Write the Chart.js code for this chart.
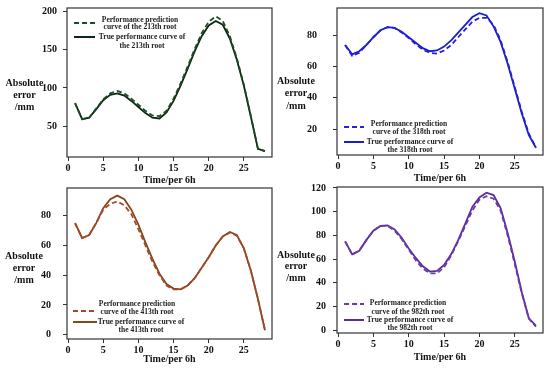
<!DOCTYPE html>
<html lang="en">
<head>
  <meta charset="UTF-8" />
  <title>Absolute error curves</title>
  <script src="https://cdn.jsdelivr.net/npm/chart.js"></script>
  <style>
    * { margin: 0; padding: 0; box-sizing: border-box; }
    body { background: #fff; width: 550px; height: 371px; position: relative; overflow: hidden; }
    canvas { position: absolute; }
  </style>
</head>
<body>
  <canvas id="c213" width="275" height="190" style="left:0;top:0"></canvas>
  <canvas id="c318" width="275" height="190" style="left:275px;top:0"></canvas>
  <canvas id="c413" width="275" height="188" style="left:0;top:183px"></canvas>
  <canvas id="c982" width="275" height="188" style="left:275px;top:183px"></canvas>

  <script>
    // time steps (per 6h)
    const timeSteps = [1, 2, 3, 4, 5, 6, 7, 8, 9, 10, 11, 12, 13, 14, 15, 16, 17, 18, 19, 20, 21, 22, 23, 24, 25, 26, 27, 28];
    const xTicks = [0, 5, 10, 15, 20, 25];

    // 213th root
    const pred213 = [80, 59, 61, 73, 85, 93, 96, 93, 86, 78, 70, 64, 63, 70, 86, 106, 128, 151, 172, 187, 194, 188, 168, 139, 104, 63, 20, 17];
    const true213 = [80, 59, 61, 72, 84, 91, 93, 90, 83, 75, 67, 61, 60, 68, 83, 103, 125, 148, 168, 182, 188, 183, 165, 137, 103, 62, 20, 17];
    const yTicks213 = [50, 100, 150, 200];

    // 318th root
    const pred318 = [74, 67, 69, 74, 79, 83.5, 85.5, 85, 82, 78.5, 74.5, 71, 69, 68.5, 70.5, 74, 79, 84, 89, 91.5, 91.5, 87, 77, 63, 47, 31, 17, 8];
    const true318 = [74, 68, 70, 74, 79, 83.5, 85.5, 85, 82.5, 79, 75.5, 72, 70, 70.5, 73, 77, 82, 87, 92, 94.5, 93, 86, 76, 62, 46, 30, 16, 8];
    const yTicks318 = [20, 40, 60, 80];

    // 413th root
    const pred413 = [75, 65, 67, 75, 84, 88, 89.5, 87, 81, 71, 60, 49, 40, 33, 30.5, 30.5, 33, 38, 45, 52, 60, 66, 68.5, 66.5, 58, 43, 24, 3];
    const true413 = [75, 65, 67, 75, 85, 91, 93.5, 91, 84, 74, 62, 51, 41, 34, 31, 30.5, 33, 38, 45, 52, 60, 66, 69, 67, 58, 43, 24, 3];
    const yTicks413 = [0, 20, 40, 60, 80];

    // 982th root
    const pred982 = [75, 64, 67, 76, 84, 88, 88, 84, 77, 68, 59, 52, 48, 48, 53, 63, 75, 88, 101, 110, 113, 111, 101, 80, 56, 31, 10, 3];
    const true982 = [75, 64, 67, 76, 84, 88, 88.5, 85, 78, 69, 61, 54, 49.5, 50, 55, 64, 76, 90, 104, 112, 116, 114, 103, 82, 58, 32, 10, 4];
    const yTicks982 = [0, 20, 40, 60, 80, 100, 120];

    const serif = "'Liberation Serif', 'Times New Roman', serif";

    // draws the frame, the horizontal y title and the in-plot legend
    const decorPlugin = {
      id: 'decor',
      afterDraw(chart) {
        const d = chart.options.plugins.decor;
        const ctx = chart.ctx;
        const a = chart.chartArea;
        ctx.save();
        ctx.strokeStyle = '#333';
        ctx.lineWidth = 1.2;
        ctx.strokeRect(a.left, a.top, a.right - a.left, a.bottom - a.top);

        ctx.fillStyle = '#111';
        ctx.textAlign = 'center';
        ctx.textBaseline = 'middle';
        ctx.font = 'bold 10px ' + serif;
        ['Absolute', 'error', '/mm'].forEach((t, i) => {
          ctx.fillText(t, d.titleX - d.ox, d.titleYs[i] - d.oy);
        });

        ctx.font = 'bold 7.5px ' + serif;
        d.legend.forEach(item => {
          ctx.strokeStyle = item.color;
          ctx.lineWidth = 2;
          ctx.setLineDash(item.dash);
          ctx.beginPath();
          ctx.moveTo(d.sx1 - d.ox, item.sy - d.oy);
          ctx.lineTo(d.sx2 - d.ox, item.sy - d.oy);
          ctx.stroke();
          ctx.setLineDash([]);
          ctx.fillStyle = '#222';
          item.lines.forEach((t, i) => {
            ctx.fillText(t, item.cx - d.ox, item.ty[i] - d.oy);
          });
        });
        ctx.restore();
      }
    };

    // stop tick labels from pushing the plot area around
    const noPad = s => { s.paddingTop = 0; s.paddingBottom = 0; s.paddingLeft = 0; s.paddingRight = 0; };

    function makeChart(id, cfg) {
      const pts = arr => timeSteps.map((x, i) => ({ x: x, y: arr[i] }));
      return new Chart(document.getElementById(id), {
        type: 'line',
        data: {
          datasets: [
            { data: pts(cfg.pred), borderColor: cfg.predColor, borderWidth: 1.8, borderDash: [5, 3], pointRadius: 0, tension: 0 },
            { data: pts(cfg.real), borderColor: cfg.trueColor, borderWidth: 1.8, pointRadius: 0, tension: 0 }
          ]
        },
        options: {
          responsive: false,
          animation: false,
          devicePixelRatio: 1,
          layout: { padding: { left: 0, top: cfg.top, right: cfg.right, bottom: 0 } },
          plugins: {
            legend: { display: false },
            tooltip: { enabled: false },
            decor: cfg.decor
          },
          scales: {
            x: {
              type: 'linear',
              min: -0.15,
              max: 29,
              afterBuildTicks: s => { s.ticks = xTicks.map(v => ({ value: v })); },
              afterFit: s => { s.height = cfg.xHeight; noPad(s); },
              grid: { drawOnChartArea: false, drawTicks: true, tickLength: 4, color: '#333' },
              border: { display: false },
              ticks: { color: '#111', padding: 1, maxRotation: 0, font: { family: serif, weight: 'bold', size: 10 } },
              title: { display: true, text: 'Time/per 6h', color: '#111', padding: { top: 0, bottom: cfg.titlePad }, font: { family: serif, weight: 'bold', size: 10 } }
            },
            y: {
              min: cfg.ymin,
              max: cfg.ymax,
              afterBuildTicks: s => { s.ticks = cfg.yTicks.map(v => ({ value: v })); },
              afterFit: s => { s.width = cfg.yWidth; noPad(s); },
              grid: { drawOnChartArea: false, drawTicks: true, tickLength: 4, color: '#333' },
              border: { display: false },
              ticks: { color: '#111', padding: cfg.yPad, font: { family: serif, weight: 'bold', size: 10 } }
            }
          }
        },
        plugins: [decorPlugin]
      });
    }

    const legendText = n => [
      ['Performance prediction', 'curve of the ' + n + ' root'],
      ['True performance curve of', 'the ' + n + ' root']
    ];

    function legendItems(n, predColor, trueColor, p) {
      const t = legendText(n);
      return [
        { color: predColor, dash: [5, 3], sy: p[0], cx: p[1], ty: p[2], lines: t[0] },
        { color: trueColor, dash: [], sy: p[3], cx: p[4], ty: p[5], lines: t[1] }
      ];
    }

    const g213 = ['#1d4d26', '#0e2612'];
    makeChart('c213', {
      pred: pred213, real: true213, predColor: g213[0], trueColor: g213[1],
      ymin: 9.4, ymax: 205, yTicks: yTicks213,
      top: 8, right: 3, yWidth: 67, yPad: 6, xHeight: 33, titlePad: 4,
      decor: {
        ox: 0, oy: 0, titleX: 24.5, titleYs: [83, 95, 107], sx1: 74, sx2: 95,
        legend: legendItems('213th', g213[0], g213[1], [23, 140, [20, 27], 37, 142, [37, 46]])
      }
    });

    const b318 = ['#2323cf', '#1c1cc8'];
    makeChart('c318', {
      pred: pred318, real: true318, predColor: b318[0], trueColor: b318[1],
      ymin: 3.3, ymax: 97.8, yTicks: yTicks318,
      top: 8, right: 7, yWidth: 62, yPad: 16, xHeight: 35, titlePad: 6,
      decor: {
        ox: 275, oy: 0, titleX: 296, titleYs: [81, 93, 106], sx1: 344, sx2: 364,
        legend: legendItems('318th', b318[0], b318[1], [127, 409, [124, 132], 142, 410, [142, 150]])
      }
    });

    const r413 = ['#a5492c', '#86471a'];
    makeChart('c413', {
      pred: pred413, real: true413, predColor: r413[0], trueColor: r413[1],
      ymin: -2.9, ymax: 98.6, yTicks: yTicks413,
      top: 5, right: 3, yWidth: 67, yPad: 12, xHeight: 32, titlePad: 6,
      decor: {
        ox: 0, oy: 183, titleX: 24, titleYs: [256, 268, 280], sx1: 73, sx2: 97,
        legend: legendItems('413th', r413[0], r413[1], [311, 137, [304, 312], 322, 141, [322, 330]])
      }
    });

    const p982 = ['#6a3aac', '#5a2c9c'];
    makeChart('c982', {
      pred: pred982, real: true982, predColor: p982[0], trueColor: p982[1],
      ymin: -2.3, ymax: 120.8, yTicks: yTicks982,
      top: 4, right: 7, yWidth: 62, yPad: 7, xHeight: 38, titlePad: 8,
      decor: {
        ox: 275, oy: 183, titleX: 296, titleYs: [255, 266, 278], sx1: 344, sx2: 364,
        legend: legendItems('982th', p982[0], p982[1], [304, 408, [303, 312], 320, 410, [320, 328]])
      }
    });
  </script>
</body>
</html>
